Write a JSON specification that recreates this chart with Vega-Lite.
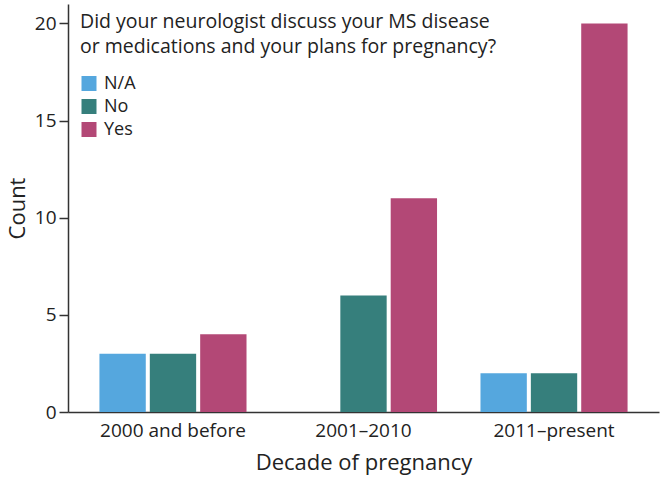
{
  "$schema": "https://vega.github.io/schema/vega-lite/v6.json",
  "autosize": "none",
  "padding": {"left": 68, "top": 4, "right": 3, "bottom": 68},
  "width": 591,
  "height": 408,
  "background": "white",
  "config": {
    "font": "Open Sans",
    "view": {"stroke": null},
    "axis": {"grid": false, "domainColor": "#333333", "tickColor": "#333333", "labelColor": "#222222", "titleColor": "#222222", "titleFontWeight": "normal", "domainWidth": 1.5, "tickWidth": 1.5}
  },
  "data": {
    "values": [
      {"decade": "2000 and before", "answer": "N/A", "count": 3},
      {"decade": "2000 and before", "answer": "No", "count": 3},
      {"decade": "2000 and before", "answer": "Yes", "count": 4},
      {"decade": "2001–2010", "answer": "N/A", "count": 0},
      {"decade": "2001–2010", "answer": "No", "count": 6},
      {"decade": "2001–2010", "answer": "Yes", "count": 11},
      {"decade": "2011–present", "answer": "N/A", "count": 2},
      {"decade": "2011–present", "answer": "No", "count": 2},
      {"decade": "2011–present", "answer": "Yes", "count": 20}
    ]
  },
  "mark": {"type": "bar"},
  "encoding": {
    "x": {
      "field": "decade", "type": "nominal", "sort": null,
      "scale": {"paddingInner": 0.228, "paddingOuter": 0.165},
      "axis": {"title": "Decade of pregnancy", "labelAngle": 0, "labelFontSize": 19, "titleFontSize": 22, "ticks": false, "labelPadding": 9, "titlePadding": 12}
    },
    "xOffset": {"field": "answer", "type": "nominal", "scale": {"paddingInner": 0.08, "paddingOuter": 0}},
    "y": {
      "field": "count", "type": "quantitative",
      "scale": {"domain": [0, 21], "nice": false},
      "axis": {"title": "Count", "values": [0, 5, 10, 15, 20], "labelFontSize": 19, "titleFontSize": 22, "tickSize": 9, "labelPadding": 3, "titlePadding": 5}
    },
    "color": {
      "field": "answer", "type": "nominal",
      "scale": {"domain": ["N/A", "No", "Yes"], "range": ["#55A7DE", "#367F7C", "#B34876"]},
      "legend": {
        "title": ["Did your neurologist discuss your MS disease", "or medications and your plans for pregnancy?"],
        "orient": "none", "legendX": 12, "legendY": 9,
        "titleLimit": 600,
        "titleFontSize": 19.5, "titleFontWeight": "normal", "titleColor": "#222222", "titleLineHeight": 25, "titlePadding": 17,
        "labelFontSize": 18, "labelColor": "#222222", "symbolType": "square", "symbolSize": 225, "symbolStrokeWidth": 0, "rowPadding": 5, "labelOffset": 6, "offset": 0, "padding": 0
      }
    }
  }
}
